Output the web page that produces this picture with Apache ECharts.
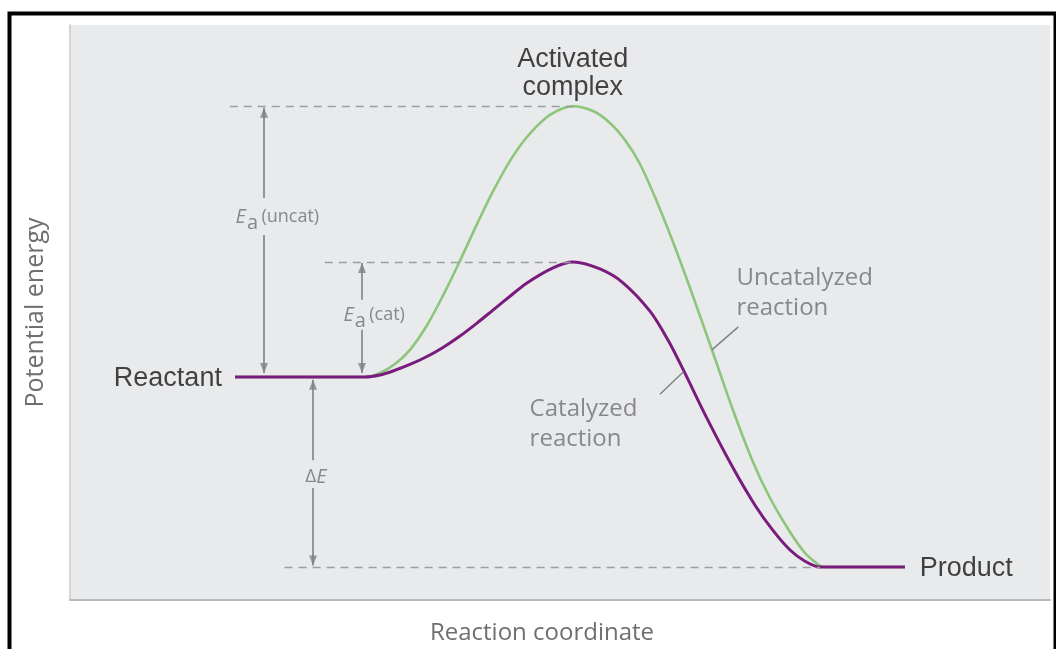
<!DOCTYPE html>
<html>
<head>
<meta charset="utf-8">
<script src="https://cdn.jsdelivr.net/npm/echarts@6/dist/echarts.min.js"></script>
<style>
  html, body { margin: 0; padding: 0; background: #ffffff; }
  #chart { width: 1056px; height: 649px; }
</style>
</head>
<body>
<div id="chart"></div>
<script>
// ---- Data (reaction coordinate 0..100, potential energy 0..100) ----
const uncatX = [16.84, 28.06, 30.10, 31.63, 33.16, 34.69, 36.43, 38.06, 39.80, 41.53, 43.16, 44.90, 46.63, 48.67, 50.31, 51.33, 53.37, 55.10, 56.63, 58.16, 59.90, 61.53, 63.27, 65.51, 67.65, 69.69, 71.43, 73.47, 75.00, 76.02, 76.73, 78.06, 85.20];
const uncatE = [38.78, 38.78, 38.78, 39.48, 41.04, 43.51, 47.79, 52.94, 59.01, 65.36, 71.06, 76.38, 80.52, 84.00, 85.53, 85.88, 85.04, 82.96, 80.00, 75.83, 69.22, 62.26, 54.26, 43.48, 33.04, 24.00, 17.74, 11.83, 8.17, 6.61, 5.83, 5.74, 5.74];

const catX = [16.84, 28.06, 30.10, 31.63, 32.96, 34.69, 36.43, 38.06, 39.80, 41.53, 43.16, 44.90, 46.63, 49.29, 51.33, 54.08, 56.43, 59.18, 61.02, 62.55, 65.00, 67.65, 69.90, 71.73, 73.47, 75.00, 76.53, 78.06, 85.20];
const catE = [38.78, 38.78, 38.78, 39.13, 39.83, 40.96, 42.35, 43.93, 45.91, 48.16, 50.42, 52.83, 55.15, 57.77, 58.78, 57.57, 55.17, 50.23, 45.22, 40.14, 31.58, 22.99, 16.49, 12.10, 8.70, 6.75, 5.74, 5.74, 5.74];

const reactantE = 38.78;
const productE = 5.74;
const peakUncatE = 85.88;
const peakCatE = 58.78;
const peakX = 51.33;
const productStartX = 76.53;

// reference dashed levels: [xStart, xEnd, energy]
const dashLevels = [
  [16.3, peakX, peakUncatE],
  [26.0, peakX, peakCatE],
  [21.9, productStartX, productE]
];

// double arrows: [x, bottomTipE, topTipE, gapLowE, gapHighE]
const arrowEaUncat = [19.8, 39.5, 85.6, 63.5, 69.9];
const arrowEaCat = [29.8, 39.5, 58.6, 47.0, 52.2];
const arrowDeltaE = [24.8, 6.0, 38.3, 19.5, 24.3];

// leader lines: [[x1,y1],[x2,y2]]
const leaderUncat = [[68.2, 47.5], [65.5, 43.5]];
const leaderCat = [[60.2, 35.8], [62.6, 39.7]];

// text annotations
const labelTexts = {
  activated: 'Activated\ncomplex',
  reactant: 'Reactant',
  product: 'Product',
  uncat: 'Uncatalyzed\nreaction',
  cat: 'Catalyzed\nreaction',
  eaUncat: '{e|E}{s|a} {t|(uncat)}',
  eaCat: '{e|E}{s|a} {t|(cat)}',
  dE: '{t|Δ}{e|E}'
};
const labelAnchors = {
  activated: [51.3, 91.6],
  reactant: [15.5, 38.5],
  product: [86.7, 5.5],
  uncat: [68.0, 53.4],
  cat: [46.9, 30.6],
  eaUncat: [16.9, 66.6],
  eaCat: [27.9, 49.6],
  dE: [25.1, 21.4]
};

const xAxisTitle = 'Reaction coordinate';
const yAxisTitle = 'Potential energy';

// ---- Build ----
const GRAY_TXT = '#6e6f72';
const ARROW = '#808184';
const BLACK_TXT = '#151515';

function zip(xs, ys) { return xs.map((x, i) => [x, ys[i]]); }

function arrowSegs(a) {
  const [x, lo, hi, gLo, gHi] = a;
  return [
    [{ coord: [x, gHi] }, { coord: [x, hi] }],
    [{ coord: [x, gLo] }, { coord: [x, lo] }]
  ];
}
const allArrows = [arrowEaUncat, arrowEaCat, arrowDeltaE];

const blackFont = { fontFamily: 'Liberation Sans', fontSize: 27, color: BLACK_TXT, lineHeight: 28 };
const grayFont = { fontFamily: 'Open Sans', fontSize: 24, color: GRAY_TXT, lineHeight: 30 };
const eaRich = {
  e: { fontFamily: 'Open Sans', fontStyle: 'italic', fontSize: 20, color: GRAY_TXT },
  s: { fontFamily: 'Open Sans', fontSize: 20, color: GRAY_TXT, padding: [12, 0, 0, 1] },
  t: { fontFamily: 'Open Sans', fontSize: 18, color: GRAY_TXT }
};

function lab(key, font, align, extra) {
  return {
    value: labelAnchors[key],
    label: Object.assign({
      show: true,
      position: 'inside',
      formatter: labelTexts[key],
      align: align,
      verticalAlign: 'middle'
    }, font, extra || {})
  };
}

const chart = echarts.init(document.getElementById('chart'), null, { renderer: 'canvas' });

chart.setOption({
  animation: false,
  backgroundColor: '#ffffff',
  grid: {
    left: 70, top: 25, width: 980, height: 575,
    outerBoundsMode: 'none', containLabel: false,
    show: true, backgroundColor: '#e9eaec', borderWidth: 0
  },
  xAxis: {
    type: 'value', min: 0, max: 100,
    name: xAxisTitle, nameLocation: 'middle', nameGap: 21,
    nameTextStyle: { fontFamily: 'Open Sans', fontSize: 24, color: GRAY_TXT, padding: [0, 36, 0, 0] },
    axisLine: { show: true, lineStyle: { color: '#b9babc', width: 2 } },
    axisTick: { show: false }, axisLabel: { show: false }, splitLine: { show: false }
  },
  yAxis: {
    type: 'value', min: 0, max: 100,
    name: yAxisTitle, nameLocation: 'middle', nameGap: 22, nameRotate: 90,
    nameTextStyle: { fontFamily: 'Open Sans', fontSize: 25, color: GRAY_TXT },
    axisLine: { show: true, lineStyle: { color: '#d4d5d7', width: 2 } },
    axisTick: { show: false }, axisLabel: { show: false }, splitLine: { show: false }
  },
  graphic: [
    {
      type: 'rect', left: 7, top: 11, z: 100, silent: true,
      shape: { width: 1046, height: 660 },
      style: { fill: 'none', stroke: '#000000', lineWidth: 4 }
    }
  ],
  series: [
    {
      name: 'guides', type: 'line', data: [], silent: true,
      markLine: {
        silent: true, symbol: ['none', 'none'], label: { show: false },
        lineStyle: { color: '#9d9ea0', width: 1.3, type: [8, 6] },
        data: dashLevels.map(d => [{ coord: [d[0], d[2]] }, { coord: [d[1], d[2]] }])
      }
    },
    {
      name: 'arrows', type: 'line', data: [], silent: true,
      markLine: {
        silent: true, symbol: ['none', 'none'],
        label: { show: false },
        lineStyle: { color: ARROW, width: 1.6, type: 'solid' },
        data: [].concat(...allArrows.map(arrowSegs))
      }
    },
    {
      name: 'arrowheads up', type: 'scatter', silent: true, z: 5,
      symbol: 'triangle', symbolSize: [8, 10], symbolOffset: [0, 5],
      itemStyle: { color: ARROW },
      data: allArrows.map(a => [a[0], a[2]])
    },
    {
      name: 'arrowheads down', type: 'scatter', silent: true, z: 5,
      symbol: 'triangle', symbolSize: [8, 10], symbolRotate: 180, symbolOffset: [0, -5],
      itemStyle: { color: ARROW },
      data: allArrows.map(a => [a[0], a[1]])
    },
    {
      name: 'leaders', type: 'line', data: [], silent: true,
      markLine: {
        silent: true, symbol: ['none', 'none'], label: { show: false },
        lineStyle: { color: ARROW, width: 1.4, type: 'solid' },
        data: [
          [{ coord: leaderUncat[0] }, { coord: leaderUncat[1] }],
          [{ coord: leaderCat[0] }, { coord: leaderCat[1] }]
        ]
      }
    },
    {
      name: 'Uncatalyzed reaction', type: 'line', smooth: 0.3, showSymbol: false,
      data: zip(uncatX, uncatE),
      lineStyle: { color: '#8dc67b', width: 2.6 }, z: 3
    },
    {
      name: 'Catalyzed reaction', type: 'line', smooth: 0.3, showSymbol: false,
      data: zip(catX, catE),
      lineStyle: { color: '#7a1c7d', width: 3 }, z: 4
    },
    {
      name: 'labels', type: 'scatter', symbolSize: 0, silent: true, z: 6,
      data: [
        lab('activated', blackFont, 'center'),
        lab('reactant', blackFont, 'right'),
        lab('product', blackFont, 'left'),
        lab('uncat', grayFont, 'left'),
        lab('cat', grayFont, 'left'),
        lab('eaUncat', {}, 'left', { rich: eaRich }),
        lab('eaCat', {}, 'left', { rich: eaRich }),
        lab('dE', {}, 'center', { rich: { t: { fontFamily: 'Open Sans', fontSize: 19, color: GRAY_TXT }, e: eaRich.e } })
      ]
    }
  ]
});
</script>
</body>
</html>
